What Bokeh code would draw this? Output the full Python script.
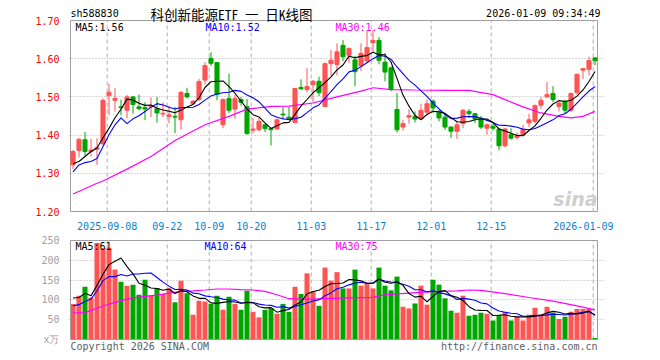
import numpy as np
from bokeh.plotting import figure
from bokeh.layouts import column
from bokeh.models import FixedTicker, PrintfTickFormatter, Range1d
from bokeh.core.properties import value
from bokeh.embed import file_html
from bokeh.resources import INLINE

# ---------------- data ----------------
opens = [1.322, 1.360, 1.388, 1.357, 1.363, 1.377, 1.504, 1.491, 1.474, 1.465,
         1.500, 1.474, 1.472, 1.474, 1.469, 1.455, 1.449, 1.449, 1.440, 1.509,
         1.482, 1.493, 1.544, 1.601, 1.590, 1.427, 1.496, 1.468, 1.493, 1.474,
         1.413, 1.414, 1.427, 1.417, 1.416, 1.455, 1.447, 1.433, 1.525, 1.519,
         1.532, 1.541, 1.475, 1.587, 1.585, 1.635, 1.609, 1.597, 1.581, 1.594,
         1.642, 1.648, 1.591, 1.576, 1.467, 1.421, 1.447, 1.449, 1.442, 1.460,
         1.489, 1.460, 1.447, 1.421, 1.410, 1.430, 1.462, 1.456, 1.444, 1.418,
         1.423, 1.416, 1.372, 1.401, 1.394, 1.401, 1.432, 1.436, 1.478, 1.500,
         1.509, 1.475, 1.489, 1.465, 1.511, 1.570, 1.572, 1.602]
highs = [1.361, 1.392, 1.408, 1.390, 1.392, 1.496, 1.534, 1.523, 1.493, 1.505,
         1.502, 1.506, 1.486, 1.499, 1.500, 1.486, 1.477, 1.474, 1.515, 1.524,
         1.491, 1.547, 1.591, 1.617, 1.591, 1.496, 1.561, 1.506, 1.500, 1.495,
         1.445, 1.445, 1.430, 1.417, 1.443, 1.473, 1.474, 1.524, 1.546, 1.576,
         1.544, 1.553, 1.590, 1.623, 1.640, 1.649, 1.629, 1.607, 1.640, 1.673,
         1.675, 1.657, 1.615, 1.580, 1.510, 1.440, 1.468, 1.462, 1.482, 1.493,
         1.493, 1.465, 1.458, 1.423, 1.436, 1.468, 1.468, 1.458, 1.450, 1.430,
         1.430, 1.419, 1.419, 1.418, 1.407, 1.427, 1.456, 1.480, 1.500, 1.539,
         1.528, 1.493, 1.491, 1.511, 1.561, 1.576, 1.605, 1.604]
lows = [1.311, 1.341, 1.346, 1.344, 1.322, 1.375, 1.452, 1.461, 1.452, 1.444,
        1.456, 1.465, 1.439, 1.447, 1.433, 1.447, 1.431, 1.405, 1.414, 1.496,
        1.479, 1.489, 1.532, 1.581, 1.491, 1.418, 1.458, 1.443, 1.477, 1.401,
        1.405, 1.410, 1.408, 1.373, 1.414, 1.440, 1.440, 1.431, 1.519, 1.512,
        1.486, 1.502, 1.473, 1.556, 1.557, 1.594, 1.589, 1.528, 1.568, 1.589,
        1.616, 1.585, 1.541, 1.515, 1.407, 1.412, 1.430, 1.433, 1.439, 1.454,
        1.458, 1.436, 1.414, 1.392, 1.390, 1.418, 1.445, 1.432, 1.416, 1.401,
        1.412, 1.360, 1.368, 1.388, 1.388, 1.398, 1.421, 1.430, 1.468, 1.497,
        1.486, 1.462, 1.456, 1.460, 1.506, 1.547, 1.556, 1.583]
closes = [1.357, 1.389, 1.357, 1.361, 1.367, 1.491, 1.512, 1.496, 1.472, 1.500,
          1.480, 1.469, 1.468, 1.477, 1.458, 1.457, 1.453, 1.447, 1.512, 1.500,
          1.489, 1.540, 1.582, 1.588, 1.506, 1.493, 1.465, 1.496, 1.486, 1.404,
          1.416, 1.436, 1.417, 1.414, 1.440, 1.453, 1.443, 1.522, 1.521, 1.527,
          1.541, 1.511, 1.587, 1.596, 1.618, 1.605, 1.627, 1.566, 1.614, 1.629,
          1.648, 1.596, 1.565, 1.519, 1.414, 1.430, 1.451, 1.442, 1.465, 1.482,
          1.471, 1.445, 1.421, 1.410, 1.427, 1.465, 1.456, 1.442, 1.421, 1.427,
          1.418, 1.372, 1.416, 1.392, 1.398, 1.414, 1.440, 1.477, 1.491, 1.506,
          1.493, 1.484, 1.465, 1.509, 1.559, 1.574, 1.595, 1.595]
volumes = [89.5, 110.6, 133.4, 106, 244, 230.6, 231.4, 176.5, 146, 136,
           138.5, 113, 151, 112, 130, 115, 129, 94, 148.6, 116.6,
           62.5, 98, 96, 89.5, 110.6, 75, 108, 89.5, 75, 123,
           70, 56, 75, 79, 65, 90, 70, 133, 115, 167,
           121.6, 85, 181.6, 148.6, 170, 129, 129, 176.5, 136, 140,
           129, 181.6, 136, 124, 158.8, 82.8, 78.5, 91, 136, 88,
           151, 138.5, 104, 72.6, 67.6, 110.6, 60, 62.5, 67.6, 65,
           48, 62.5, 70, 48, 56.6, 48, 62.5, 80, 62.5, 82.8,
           67.6, 52, 57.4, 70, 77, 77, 77, 4]

# moving-average values before enough days are on the chart
ma5_head = [1.325, 1.331, 1.344, 1.357]
ma10_head = [1.304, 1.322, 1.328, 1.331, 1.339, 1.370, 1.401, 1.427, 1.445]
ma30_idx = [0, 4, 5, 9, 13, 17, 22, 26, 29, 33, 36, 40, 44, 48, 50, 53, 57, 62,
            66, 70, 72, 75, 78, 81, 83, 85, 87]
ma30_val = [1.246, 1.274, 1.280, 1.311, 1.344, 1.386, 1.427, 1.449, 1.468, 1.475,
            1.476, 1.484, 1.500, 1.515, 1.524, 1.519, 1.518, 1.517, 1.517, 1.506,
            1.493, 1.474, 1.458, 1.449, 1.445, 1.449, 1.462]
vol_ma5_head = [104.7, 106, 116.6, 110.6]
vol_ma10_head = [85, 88, 96, 102, 123, 148.6, 158.8, 158.8, 164]
vol_ma30_idx = [0, 2, 4, 6, 8, 10, 12, 14, 16, 18, 20, 22, 24, 26, 28, 30, 32, 34,
                36, 38, 40, 42, 46, 50, 52, 56, 60, 64, 66, 68, 72, 76, 80, 84, 87]
vol_ma30_val = [67.6, 68, 79, 89.5, 98, 105, 109, 112, 117, 121.6, 123, 125, 127.5,
                127.5, 126, 125, 121.6, 113, 103, 102, 102, 103, 105, 106.4, 113,
                117, 120.8, 123, 125, 124, 116, 106, 97, 85, 75]

tick_idx = [6, 16, 23, 30, 40, 50, 60, 70, 87]
tick_labels = ["2025-09-08", "09-22", "10-09", "10-20", "11-03", "11-17",
               "12-01", "12-15", "2026-01-09"]
price_ticks = [1.20, 1.30, 1.40, 1.50, 1.60, 1.70]
price_grid = [1.30, 1.40, 1.50, 1.60]
vol_ticks = [0, 50, 100, 150, 200, 250]
vol_unit = "x万"
vol_grid = [50, 100, 150, 200]

# ---------------- helpers ----------------
RED = "#ff5454"
GREEN = "#00a600"
MONO = "DejaVu Sans Mono"
N = len(closes)
idx = np.arange(N)
P_LO, P_HI = price_ticks[0], price_ticks[-1]
V_LO, V_HI = 0, vol_ticks[-1]


def moving_avg(vals, n, head):
    out = list(head)
    for i in range(len(head), len(vals)):
        out.append(float(np.mean(vals[i - n + 1:i + 1])))
    return out


ma5 = moving_avg(closes, 5, ma5_head)
ma10 = moving_avg(closes, 10, ma10_head)
vma5 = moving_avg(volumes, 5, vol_ma5_head)
vma10 = moving_avg(volumes, 10, vol_ma10_head)

up = [c >= o for o, c in zip(opens, closes)]
colors = [RED if u else GREEN for u in up]
body_top = [max(o, c) for o, c in zip(opens, closes)]
body_bot = [min(o, c) for o, c in zip(opens, closes)]

grid_pos = [t - 0.3 for t in tick_idx]
label_over = {g: l for g, l in zip(grid_pos, tick_labels)}


# page-pixel -> data helpers (for placing texts / plot-area box only)
def xi(px):
    return (px - 72.5) / 6.0


def yp(py):
    return 1.7 - (py - 20) / 382.0


def yv(py):
    return 250 - (py - 240) * 250 / 99.0


BOX_L, BOX_R = xi(70), xi(597)      # visible plot-area box
FR_L, FR_R = xi(68), xi(603)        # bokeh frame (slightly larger)
W = 613


def base(p):
    p.outline_line_color = None
    p.background_fill_color = "white"
    p.border_fill_color = "white"
    p.xgrid.visible = False
    p.ygrid.grid_line_color = "#b0b0b0"
    p.ygrid.grid_line_dash = "1 2"
    p.ygrid.grid_line_width = 1
    p.yaxis.axis_line_color = None
    p.yaxis.major_tick_line_color = None
    p.yaxis.minor_tick_line_color = None
    p.yaxis.major_label_standoff = 3
    p.yaxis.major_label_text_font = MONO
    p.yaxis.major_label_text_font_size = "10px"


def txt(p, x, y, text, color="#000000", size="10px", font=MONO, align="left",
        style_="normal", alpha=1.0):
    p.text(x=[x], y=[y], text=[text], text_color=color, text_font_size=size,
           text_font=value(font), text_align=align, text_baseline="middle",
           text_font_style=style_, text_alpha=alpha)


# ---------------- price panel (frame spans page y 0..213) ----------------
p1 = figure(width=W, height=232, output_backend="svg", toolbar_location=None,
            x_range=Range1d(FR_L, FR_R), y_range=Range1d(yp(213), yp(0)),
            min_border_left=68, min_border_right=W - 603, min_border_top=0,
            min_border_bottom=19)
base(p1)
p1.ygrid.ticker = FixedTicker(ticks=price_grid)
p1.yaxis.ticker = FixedTicker(ticks=price_ticks)
p1.yaxis.formatter = PrintfTickFormatter(format="%.2f")
p1.yaxis.major_label_text_color = "#ff0000"
p1.xaxis.ticker = FixedTicker(ticks=grid_pos)
p1.xaxis.major_label_overrides = label_over
p1.xaxis.axis_line_color = None
p1.xaxis.major_tick_line_color = None
p1.xaxis.minor_tick_line_color = None
p1.xaxis.major_label_standoff = 2
p1.xaxis.major_label_text_color = "#0a7fd0"
p1.xaxis.major_label_text_font = MONO
p1.xaxis.major_label_text_font_size = "10px"

# dashed date lines and box
p1.segment(x0=grid_pos, y0=P_LO, x1=grid_pos, y1=P_HI, line_color="#b0b0b0",
           line_dash="4 3", line_width=1)
p1.quad(left=[BOX_L], right=[BOX_R], bottom=[P_LO], top=[P_HI], fill_color=None,
        line_color="#a0a0a0", line_width=1)

p1.segment(x0=idx, y0=lows, x1=idx, y1=highs, line_color=colors, line_width=1)
p1.vbar(x=idx, width=0.68, top=body_top, bottom=body_bot,
        fill_color=colors, line_color=colors, line_width=1)
p1.line(ma30_idx, ma30_val, line_color="#ff00ff", line_width=1.2)
p1.line(idx, ma10, line_color="#0000ff", line_width=1.1)
p1.line(idx, ma5, line_color="#000000", line_width=1.1)

txt(p1, xi(70), yp(13), "sh588830")
txt(p1, xi(231), yp(13), "科创新能源ETF 一 日K线图", size="13.5px",
    font="Noto Sans Mono CJK SC, Noto Sans CJK SC", align="center")
txt(p1, xi(600), yp(13), "2026-01-09 09:34:49", align="right")
txt(p1, xi(75), yp(27), "MA5:1.56")
txt(p1, xi(205), yp(27), "MA10:1.52", color="#0000ff")
txt(p1, xi(335), yp(27), "MA30:1.46", color="#ff00ff")
txt(p1, xi(597), yp(198), "sina", color="#cfcfcf", size="19px",
    font="DejaVu Sans", align="right", style_="bold italic")

# ---------------- volume panel (frame spans page y 238..352) ----------------
p2 = figure(width=W, height=120, output_backend="svg", toolbar_location=None,
            x_range=Range1d(FR_L, FR_R), y_range=Range1d(yv(352), yv(238)),
            min_border_left=68, min_border_right=W - 603, min_border_top=6,
            min_border_bottom=0)
base(p2)
p2.xaxis.visible = False
p2.ygrid.ticker = FixedTicker(ticks=vol_grid)
p2.yaxis.ticker = FixedTicker(ticks=vol_ticks)
p2.yaxis.major_label_overrides = {0: vol_unit}
p2.yaxis.major_label_text_color = "#a0a0a0"

p2.segment(x0=grid_pos, y0=V_LO, x1=grid_pos, y1=V_HI, line_color="#b0b0b0",
           line_dash="4 3", line_width=1)
p2.vbar(x=idx, width=0.84, top=volumes, bottom=0, fill_color=colors, line_color=None)
p2.line(vol_ma30_idx, vol_ma30_val, line_color="#ff00ff", line_width=1.2)
p2.line(idx, vma10, line_color="#0000ff", line_width=1.1)
p2.line(idx, vma5, line_color="#000000", line_width=1.1)
p2.quad(left=[BOX_L], right=[BOX_R], bottom=[V_LO], top=[V_HI], fill_color=None,
        line_color="#a0a0a0", line_width=1)

txt(p2, xi(75), yv(246), "MA5:61")
txt(p2, xi(204), yv(246), "MA10:64", color="#0000ff")
txt(p2, xi(335), yv(246), "MA30:75", color="#ff00ff")
txt(p2, xi(70), yv(346), "Copyright 2026 SINA.COM", color="#606060")
txt(p2, xi(597), yv(346), "http://finance.sina.com.cn", color="#606060", align="right")

layout = column(p1, p2)
open("out.html", "w").write(file_html(layout, INLINE))
